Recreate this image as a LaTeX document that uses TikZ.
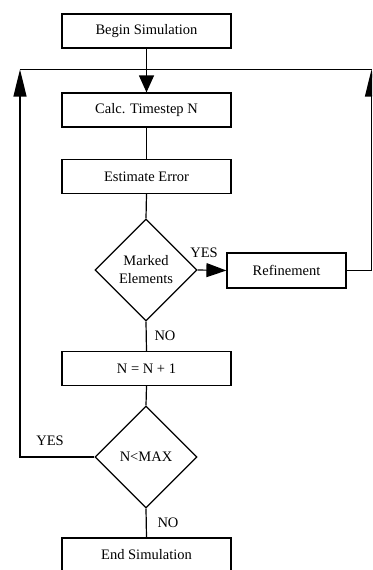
\documentclass[tikz,border=0pt]{standalone}
\usepackage{fontspec}
\setmainfont{Liberation Serif}
\usetikzlibrary{arrows.meta,shapes.geometric}
\begin{document}
\begin{tikzpicture}[x={(1pt,0pt)},y={(0pt,-1pt)},
  every node/.style={font=\fontsize{14.5}{18}\selectfont, inner sep=0pt},
  procbox/.style={draw, line width=1.2pt, minimum width=169pt, minimum height=34pt},
  decision/.style={draw, diamond, line width=1.2pt, minimum width=102pt, minimum height=102pt, align=center},
  conn/.style={line width=1.2pt},
  downarrow/.style={conn, -{Triangle[length=17pt,width=15pt]}},
  sidearrow/.style={conn, -{Triangle[length=27pt,width=13pt]}},
  yesarrow/.style={conn, -{Triangle[length=20pt,width=14pt]}},
  lbl/.style={}]
\useasboundingbox (0,0) rectangle (372,570);
\clip (0,0) rectangle (372,570);
\node[procbox] (begin) at (146.5,31) {Begin Simulation};
\node[procbox] (calc) at (146.5,110) {Calc. Timestep N};
\node[procbox] (est) at (146.5,176.5) {Estimate Error};
\node[decision] (marked) at (146,270) {Marked\\Elements};
\node[draw, line width=1.2pt, minimum width=119pt, minimum height=35pt] (refine) at (286.5,270.5) {Refinement};
\node[procbox] (inc) at (146.5,368.5) {N = N + 1};
\node[decision] (max) at (146,457) {N<MAX};
\node[procbox] (end) at (146.5,555) {End Simulation};
\coordinate (tl) at (20,69.5);
\coordinate (tr) at (371.5,69.5);
\draw[conn] (tl) -- (tr);
\draw[downarrow] (begin.south) -- (calc.north);
\draw[conn] (calc.south) -- (est.north);
\draw[conn] (est.south) -- (marked.north);
\draw[yesarrow] (marked.east) -- (refine.west);
\draw[conn] (marked.south) -- (inc.north);
\draw[conn] (inc.south) -- (max.north);
\draw[conn] (max.south) -- (end.north);
\draw[sidearrow] (max.west) -| (tl);
\draw[sidearrow] (refine.east) -| (tr);
\node[lbl] (yes1) at (204,253) {YES};
\node[lbl] (no1) at (165,336) {NO};
\node[lbl] (yes2) at (50,441) {YES};
\node[lbl] (no2) at (168,523) {NO};
\end{tikzpicture}
\end{document}
